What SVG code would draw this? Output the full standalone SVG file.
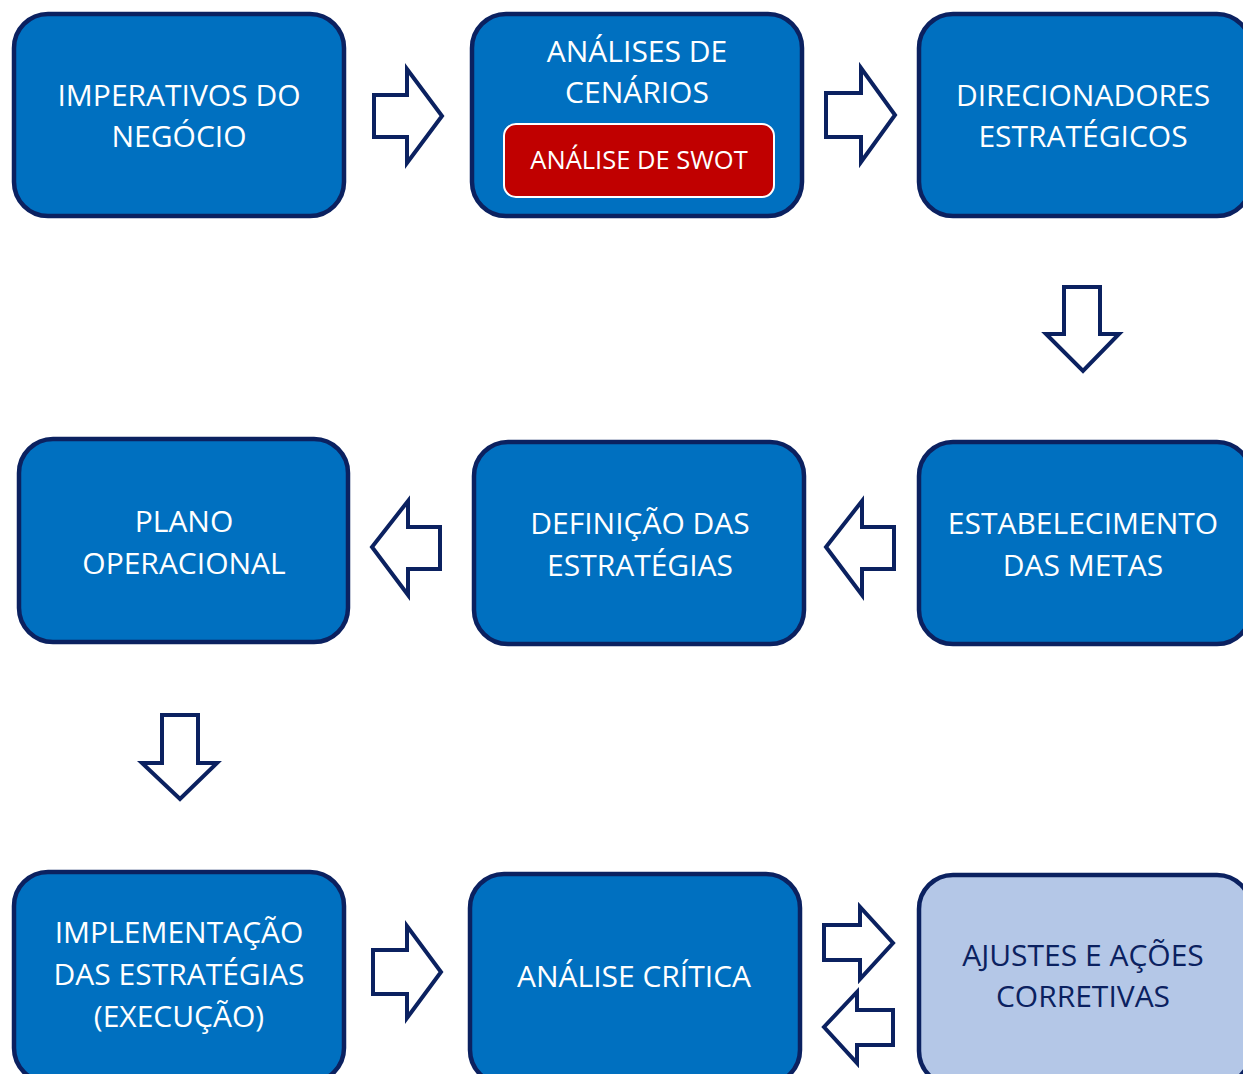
<svg xmlns="http://www.w3.org/2000/svg" width="1243" height="1074" viewBox="0 0 1243 1074">
<style>
.box{fill:#0070C0;stroke:#0B2160;stroke-width:4.5}
.light{fill:#B4C7E7;stroke:#0B2160;stroke-width:4.5}
.swot{fill:#C00000;stroke:#FFFFFF;stroke-width:2}
.t{font-family:"Open Sans","Liberation Sans",sans-serif;font-size:30px;fill:#FFFFFF;text-anchor:middle}
.s{font-size:25.5px}
.d{fill:#0B2160}
.arr{fill:#FFFFFF;stroke:#0B2160;stroke-width:4;stroke-linejoin:miter}
</style>
<rect width="1243" height="1074" fill="#FFFFFF"/>
<g id="n1"><rect class="box" x="14" y="14" width="330" height="202" rx="34"/>
<text class="t"><tspan x="179" y="106">IMPERATIVOS DO</tspan><tspan x="179" y="147">NEGÓCIO</tspan></text></g>
<g id="n2"><rect class="box" x="472" y="14" width="330" height="202" rx="34"/>
<text class="t"><tspan x="637" y="62">ANÁLISES DE</tspan><tspan x="637" y="103">CENÁRIOS</tspan></text>
<g id="n2b"><rect class="swot" x="504" y="124" width="270" height="73" rx="12"/>
<text class="t s" x="639" y="169">ANÁLISE DE SWOT</text></g></g>
<g id="n3"><rect class="box" x="919" y="14" width="332" height="202" rx="34"/>
<text class="t"><tspan x="1083" y="106">DIRECIONADORES</tspan><tspan x="1083" y="147">ESTRATÉGICOS</tspan></text></g>
<g id="n4"><rect class="box" x="19" y="439" width="329" height="203" rx="34"/>
<text class="t"><tspan x="184" y="532">PLANO</tspan><tspan x="184" y="574">OPERACIONAL</tspan></text></g>
<g id="n5"><rect class="box" x="474" y="442" width="330" height="202" rx="34"/>
<text class="t"><tspan x="640" y="534">DEFINIÇÃO DAS</tspan><tspan x="640" y="576">ESTRATÉGIAS</tspan></text></g>
<g id="n6"><rect class="box" x="919" y="442" width="332" height="202" rx="34"/>
<text class="t"><tspan x="1083" y="534">ESTABELECIMENTO</tspan><tspan x="1083" y="576">DAS METAS</tspan></text></g>
<g id="n7"><rect class="box" x="14" y="872" width="330" height="210" rx="34"/>
<text class="t"><tspan x="179" y="943">IMPLEMENTAÇÃO</tspan><tspan x="179" y="985">DAS ESTRATÉGIAS</tspan><tspan x="179" y="1027">(EXECUÇÃO)</tspan></text></g>
<g id="n8"><rect class="box" x="470" y="874" width="330" height="210" rx="34"/>
<text class="t" x="634" y="987">ANÁLISE CRÍTICA</text></g>
<g id="n9"><rect class="light" x="919" y="875" width="332" height="210" rx="34"/>
<text class="t d"><tspan x="1083" y="966">AJUSTES E AÇÕES</tspan><tspan x="1083" y="1007">CORRETIVAS</tspan></text></g>
<g id="connectors">
<path class="arr" d="M374,95 H407 V69 L442,116 L407,163 V137 H374 Z"/>
<path class="arr" d="M826,93 H861 V68 L895,115 L861,162 V137 H826 Z"/>
<path class="arr" d="M1064,287 H1100 V334 H1119 L1083,371 L1046,334 H1064 Z"/>
<path class="arr" d="M440,527 H408 V501 L372,547 L408,595 V569 H440 Z"/>
<path class="arr" d="M894,527 H862 V501 L826,547 L862,595 V569 H894 Z"/>
<path class="arr" d="M162,715 H198 V763 H217 L180,799 L142,763 H162 Z"/>
<path class="arr" d="M373,950 H407 V926 L441,972 L407,1018 V994 H373 Z"/>
<path class="arr" d="M824,925 H860 V907 L893,943 L860,979 V960 H824 Z"/>
<path class="arr" d="M893,1010 H857 V992 L824,1027 L857,1063 V1045 H893 Z"/>
</g>
</svg>
